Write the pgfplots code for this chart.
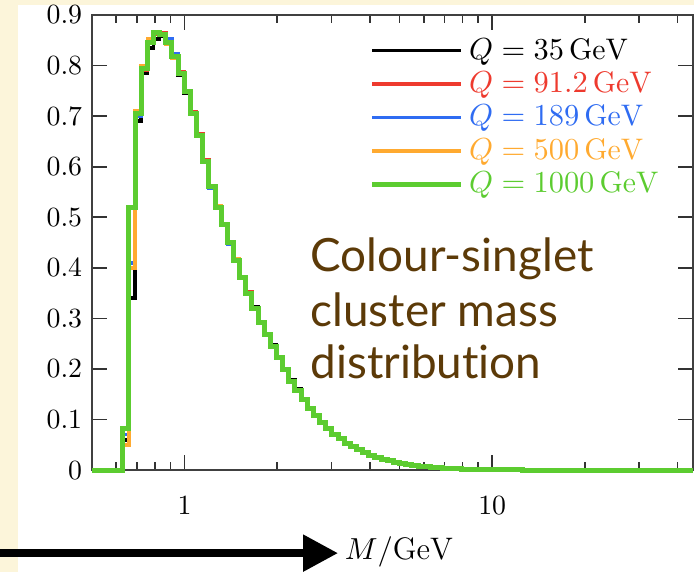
\documentclass[border=0pt]{standalone}
\usepackage{pgfplots}
\pgfplotsset{compat=1.18}
\usepackage{pgfplotstable}
\usepackage{fontspec}
\usetikzlibrary{arrows.meta}
\newfontfamily\gill[Ligatures={NoCommon,NoContextual}]{Lato}

\definecolor{cream}{HTML}{FCF5DA}
\definecolor{cblack}{HTML}{000000}
\definecolor{cred}{HTML}{EE3A2E}
\definecolor{cblue}{HTML}{2F6CF2}
\definecolor{corange}{HTML}{FFAA30}
\definecolor{cgreen}{HTML}{5CCC30}
\definecolor{brownish}{HTML}{5C3A08}

% bin lower edges (log bins, width 0.02 in log10 M) and normalised counts
% b: Q=35, r: Q=91.2, u: Q=189, o: Q=500, g: Q=1000
\pgfplotstableread{
M       b      r      u      o      g
0.5000  0      0      0      0      0
0.6295  0.060  0.070  0.070  0.050  0.083
0.6591  0.340  0.400  0.410  0.400  0.520
0.6902  0.690  0.700  0.700  0.710  0.705
0.7227  0.785  0.790  0.792  0.800  0.795
0.7568  0.835  0.848  0.850  0.852  0.845
0.7924  0.852  0.862  0.864  0.866  0.866
0.8298  0.858  0.865  0.862  0.860  0.862
0.8689  0.843  0.850  0.852  0.843  0.845
0.9099  0.815  0.822  0.824  0.815  0.818
0.9527  0.780  0.788  0.786  0.784  0.785
0.9976  0.745  0.750  0.751  0.747  0.748
1.0446  0.704  0.708  0.706  0.703  0.705
1.0939  0.664  0.665  0.660  0.662  0.662
1.1454  0.612  0.613  0.611  0.608  0.610
1.1994  0.562  0.563  0.558  0.561  0.560
1.2559  0.522  0.521  0.518  0.522  0.520
1.3151  0.486  0.488  0.484  0.487  0.485
1.3771  0.452  0.451  0.446  0.452  0.450
1.4420  0.417  0.418  0.414  0.417  0.415
1.5100  0.383  0.381  0.379  0.382  0.380
1.5811  0.352  0.352  0.349  0.351  0.350
1.6557  0.322  0.321  0.319  0.321  0.320
1.7337  0.294  0.293  0.291  0.293  0.292
1.8154  0.270  0.269  0.267  0.269  0.268
1.9009  0.247  0.246  0.244  0.246  0.245
1.9905  0.224  0.223  0.221  0.223  0.222
2.0843  0.200  0.199  0.197  0.199  0.198
2.1826  0.178  0.177  0.175  0.177  0.176
2.2854  0.160  0.159  0.157  0.159  0.158
2.3932  0.141  0.141  0.139  0.141  0.140
2.5059  0.123  0.123  0.121  0.123  0.122
2.6240  0.108  0.108  0.106  0.108  0.107
2.7477  0.095  0.095  0.093  0.095  0.094
2.8772  0.083  0.083  0.081  0.083  0.082
3.0128  0.072  0.072  0.070  0.072  0.071
3.1548  0.063  0.063  0.061  0.063  0.062
3.3035  0.054  0.054  0.052  0.054  0.053
3.4592  0.047  0.047  0.045  0.047  0.046
3.6222  0.041  0.041  0.039  0.041  0.040
3.7929  0.035  0.035  0.033  0.035  0.034
3.9716  0.029  0.029  0.029  0.030  0.029
4.1588  0.025  0.025  0.025  0.026  0.025
4.3548  0.021  0.021  0.021  0.022  0.021
4.5601  0.018  0.018  0.018  0.018  0.018
4.7750  0.015  0.015  0.015  0.015  0.015
5.0000  0.0125 0.0125 0.0125 0.0125 0.0125
5.2356  0.0105 0.0105 0.0105 0.0105 0.0105
5.4824  0.0090 0.0090 0.0090 0.0090 0.0090
5.7407  0.0075 0.0075 0.0075 0.0075 0.0075
6.0113  0.0063 0.0063 0.0063 0.0063 0.0063
6.2946  0.0053 0.0053 0.0053 0.0053 0.0053
6.5913  0.0044 0.0044 0.0044 0.0044 0.0044
6.9019  0.0037 0.0037 0.0037 0.0037 0.0037
7.2272  0.0031 0.0031 0.0031 0.0031 0.0031
7.5678  0.0026 0.0026 0.0026 0.0026 0.0026
7.9245  0.0021 0.0021 0.0021 0.0021 0.0021
8.2980  0.0017 0.0017 0.0017 0.0017 0.0017
8.6890  0.0014 0.0014 0.0014 0.0014 0.0014
9.0985  0.0011 0.0011 0.0011 0.0011 0.0011
9.5273  0.0009 0.0009 0.0009 0.0009 0.0009
9.9763  0.0007 0.0007 0.0007 0.0007 0.0007
10.446  0.0005 0.0005 0.0005 0.0005 0.0005
10.939  0.0004 0.0004 0.0004 0.0004 0.0004
11.454  0.0003 0.0003 0.0003 0.0003 0.0003
11.994  0.0002 0.0002 0.0002 0.0002 0.0002
12.559  0.0001 0.0001 0.0001 0.0001 0.0001
13.151  0      0      0      0      0
45.000  0      0      0      0      0
}\masses

\begin{document}
\begin{tikzpicture}
% slide background and white panel
\path[use as bounding box, fill=cream] (-33.1pt,-36.7pt) rectangle (216.7pt,169.2pt);
\fill[white] (-26.6pt,-36.7pt) rectangle (216.7pt,167.4pt);

\begin{axis}[
    at={(0,0)}, anchor=south west,
    width=216.4pt, height=163.8pt,
    scale only axis,
    xmode=log,
    xmin=0.5, xmax=45,
    ymin=0, ymax=0.9,
    xtick={1,10},
    xticklabels={1,10},
    minor xtick={0.6,0.7,0.8,0.9,2,3,4,5,6,7,8,9,20,30,40},
    ytick={0,0.1,0.2,0.3,0.4,0.5,0.6,0.7,0.8,0.9},
    yticklabels={0,0.1,0.2,0.3,0.4,0.5,0.6,0.7,0.8,0.9},
    minor ytick={},
    tick align=inside,
    major tick length=5.5pt,
    minor tick length=2.8pt,
    tick style={black!80, line width=0.6pt},
    axis line style={black!75, line width=0.6pt},
    xticklabel style={yshift=-5.8pt},
    clip=false,
    legend cell align=left,
    legend style={draw=none, fill=none,
        at={(axis description cs:0.447,0.975)}, anchor=north west,
        font=\fontsize{10.7}{12}\selectfont,
        row sep=-1pt},
    legend image code/.code={\draw[#1, line width=1.1pt] (0pt,0pt) -- (28pt,0pt);
        \path (0pt,0pt) -- (32pt,0pt);},
]
\addplot[cblack, line width=1.3pt, const plot, no marks] table[x=M, y=b] {\masses};
\addlegendentry{\textcolor{cblack}{$Q=35\,\mathrm{GeV}$}}
\addplot[cred, line width=1.3pt, const plot, no marks] table[x=M, y=r] {\masses};
\addlegendentry{\textcolor{cred}{$Q=91.2\,\mathrm{GeV}$}}
\addplot[cblue, line width=1.3pt, const plot, no marks] table[x=M, y=u] {\masses};
\addlegendentry{\textcolor{cblue}{$Q=189\,\mathrm{GeV}$}}
\addplot[corange, line width=1.3pt, const plot, no marks] table[x=M, y=o] {\masses};
\addlegendentry{\textcolor{corange}{$Q=500\,\mathrm{GeV}$}}
\addplot[cgreen, line width=1.8pt, const plot, no marks] table[x=M, y=g] {\masses};
\addlegendentry{\textcolor{cgreen}{$Q=1000\,\mathrm{GeV}$}}
\end{axis}

% arrow and axis title
\draw[line width=2.9pt, -{Triangle[length=12.6pt,width=12.6pt]}] (-33.1pt,-29.9pt) -- (88.6pt,-29.9pt);
\node[anchor=west, inner sep=0pt, font=\fontsize{11.2}{13}\selectfont] at (90.8pt,-29.6pt) {$M/\mathrm{GeV}$};

% annotation
\node[anchor=base west, inner sep=0pt, text=brownish, font=\gill\fontsize{16.5}{19}\selectfont] at (78.5pt,71.3pt) {Colour-singlet};
\node[anchor=base west, inner sep=0pt, text=brownish, font=\gill\fontsize{16.5}{19}\selectfont] at (78.5pt,51.5pt) {cluster mass};
\node[anchor=base west, inner sep=0pt, text=brownish, font=\gill\fontsize{16.5}{19}\selectfont] at (78.5pt,33.1pt) {distribution};
\end{tikzpicture}
\end{document}
